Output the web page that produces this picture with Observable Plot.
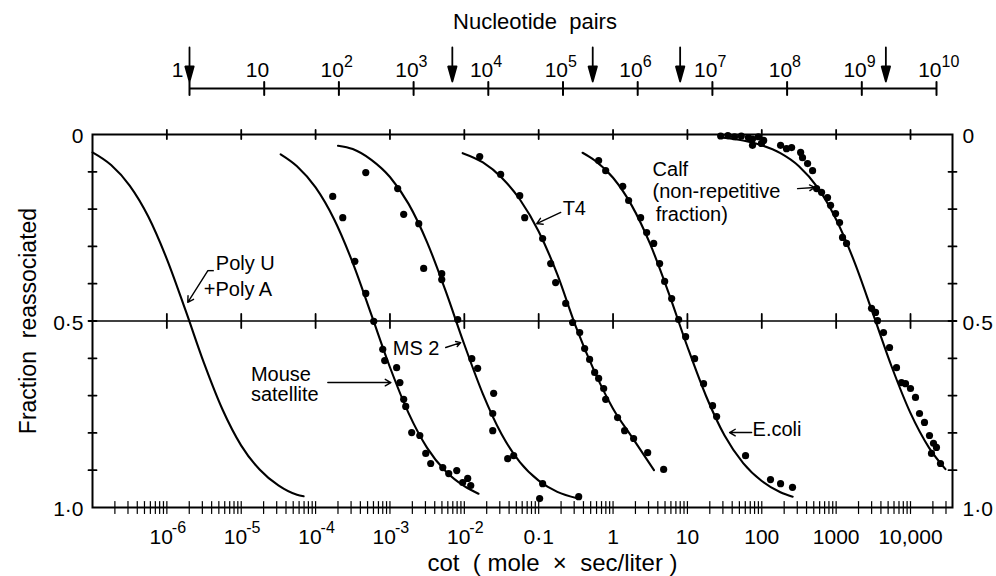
<!DOCTYPE html>
<html><head><meta charset="utf-8">
<script src="https://cdn.jsdelivr.net/npm/d3@7"></script>
<script src="https://cdn.jsdelivr.net/npm/@observablehq/plot@0.6"></script>
<style>
body{margin:0;background:#fff;}
#fig{width:996px;height:576px;position:relative;overflow:hidden;}
#fig svg{display:block;}
svg text{white-space:pre;}
</style></head><body><div id="fig"></div>
<script>
// ---------- axis ticks & labels ----------
const cotTicks = [1e-6, 1e-5, 1e-4, 1e-3, 1e-2, 0.1, 1, 10, 100, 1000, 10000];
const cotTickText = ["10", "10", "10", "10", "10", "0·1", "1", "10", "100", "1000", "10,000"];
const cotTickSup = ["-6", "-5", "-4", "-3", "-2", "", "", "", "", "", ""];
const ntTicks = [1, 10, 1e2, 1e3, 1e4, 1e5, 1e6, 1e7, 1e8, 1e9, 1e10];
const ntTickText = ["1", "10", "10", "10", "10", "10", "10", "10", "10", "10", "10"];
const ntTickSup = ["", "", "2", "3", "4", "5", "6", "7", "8", "9", "10"];
const ntArrows = [1, 3.3e3, 2.5e5, 3.7e6, 2.1e9];
const fracTicks = [0.1, 0.2, 0.3, 0.4, 0.5, 0.6, 0.7, 0.8, 0.9];
const fracLabels = [0, 0.5, 1];
const fracLabelText = ["0", "0·5", "1·0"];

// ---------- curves (cot, fraction reassociated) ----------
const polyUCot = [1e-7, 1.78e-7, 3.16e-7, 5.62e-7, 1e-6, 1.78e-6, 3.16e-6, 5.62e-6, 1e-5, 1.78e-5, 3.16e-5, 5.62e-5, 6.9e-5];
const polyUFrac = [0.048, 0.082, 0.137, 0.220, 0.334, 0.471, 0.613, 0.738, 0.834, 0.899, 0.941, 0.966, 0.970];
const mouseCot = [3.39e-5, 5.62e-5, 1e-4, 1.78e-4, 3.16e-4, 5.62e-4, 1e-3, 1.78e-3, 3.16e-3, 5.62e-3, 1e-2, 1.55e-2];
const mouseFrac = [0.053, 0.085, 0.142, 0.228, 0.344, 0.483, 0.624, 0.747, 0.840, 0.903, 0.943, 0.963];
const ms2Cot = [2.0e-4, 3.16e-4, 5.62e-4, 1e-3, 1.78e-3, 3.16e-3, 5.62e-3, 1e-2, 1.78e-2, 3.16e-2, 5.62e-2, 0.1, 0.178, 0.33];
const ms2Frac = [0.030, 0.039, 0.068, 0.114, 0.186, 0.289, 0.420, 0.563, 0.696, 0.803, 0.879, 0.928, 0.958, 0.975];
const t4Cot = [9.5e-3, 1.78e-2, 3.16e-2, 5.62e-2, 0.1, 0.178, 0.316, 0.562, 1, 1.78, 3.55];
const t4Frac = [0.050, 0.075, 0.115, 0.175, 0.260, 0.375, 0.515, 0.635, 0.735, 0.810, 0.900];
const ecoliCot = [0.389, 0.562, 1, 1.78, 3.16, 5.62, 10, 17.8, 31.6, 56.2, 100, 178, 260];
const ecoliFrac = [0.049, 0.069, 0.116, 0.190, 0.294, 0.426, 0.569, 0.701, 0.807, 0.881, 0.929, 0.959, 0.971];
const calfCot = [28, 56.2, 100, 178, 316, 562, 1000, 1780, 3160, 5620, 10000, 17800, 29500];
const calfFrac = [0.008, 0.016, 0.029, 0.050, 0.085, 0.142, 0.228, 0.344, 0.483, 0.624, 0.747, 0.840, 0.897];

// ---------- measured points ----------
const mouseDotCot = [1.70e-4, 2.32e-4, 3.37e-4, 4.73e-4, 6.05e-4, 8.0e-4, 8.5e-4, 1.23e-3, 1.36e-3, 1.53e-3, 1.63e-3, 1.96e-3, 2.52e-3, 3.03e-3, 3.53e-3, 5.13e-3, 6.17e-3, 7.91e-3, 9.5e-3, 1.11e-2, 1.22e-2];
const mouseDotFrac = [0.166, 0.223, 0.340, 0.426, 0.501, 0.576, 0.606, 0.625, 0.665, 0.710, 0.729, 0.799, 0.807, 0.855, 0.882, 0.893, 0.909, 0.901, 0.933, 0.922, 0.941];
const ms2DotCot = [4.73e-4, 1.27e-3, 1.53e-3, 2.44e-3, 2.84e-3, 4.97e-3, 4.97e-3, 8.15e-3, 1.26e-2, 1.51e-2, 2.48e-2, 2.41e-2, 2.41e-2, 3.83e-2, 4.61e-2, 0.113, 0.103, 0.345];
const ms2DotFrac = [0.102, 0.145, 0.214, 0.239, 0.359, 0.373, 0.389, 0.496, 0.601, 0.627, 0.694, 0.748, 0.794, 0.869, 0.861, 0.936, 0.976, 0.971];
const t4DotCot = [1.61e-2, 3.08e-2, 5.56e-2, 6.49e-2, 0.113, 0.145, 0.169, 0.231, 0.286, 0.356, 0.415, 0.484, 0.566, 0.640, 0.748, 0.796, 1.15, 1.43, 1.89, 2.92, 4.79];
const t4DotFrac = [0.059, 0.107, 0.164, 0.223, 0.279, 0.346, 0.397, 0.453, 0.504, 0.531, 0.574, 0.603, 0.638, 0.654, 0.681, 0.710, 0.759, 0.794, 0.815, 0.853, 0.898];
const ecoliDotCot = [0.640, 0.796, 1.35, 1.62, 2.35, 2.83, 3.52, 4.23, 4.94, 6.14, 7.62, 9.46, 12.5, 16.5, 21.8, 24.7, 60.5, 131, 179, 259];
const ecoliDotFrac = [0.070, 0.097, 0.139, 0.177, 0.223, 0.263, 0.292, 0.346, 0.394, 0.440, 0.496, 0.542, 0.601, 0.668, 0.727, 0.756, 0.861, 0.925, 0.936, 0.946];
const calfDotCot = [28, 35, 43, 53, 66, 75, 90, 106, 75, 99, 179, 215, 252, 333, 353, 413, 482, 546, 637, 766, 841, 982, 1112, 1219, 1380, 2992, 3388, 3597, 4335, 5224, 6486, 7570, 8570, 10000, 11670, 13210, 15420, 18000, 19150, 20370, 22340, 25290];
const calfDotFrac = [0.004, 0.003, 0.006, 0.004, 0.008, 0.012, 0.006, 0.016, 0.029, 0.024, 0.029, 0.038, 0.035, 0.048, 0.062, 0.078, 0.097, 0.145, 0.155, 0.169, 0.190, 0.212, 0.236, 0.276, 0.292, 0.466, 0.477, 0.499, 0.531, 0.571, 0.625, 0.665, 0.668, 0.681, 0.705, 0.748, 0.772, 0.807, 0.855, 0.828, 0.839, 0.882];

// ---------- annotations ----------
const noteText = ["Poly U", "+Poly A", "Mouse", "satellite", "MS 2", "T4", "Calf", "(non-repetitive", "fraction)", "E.coli"];
const noteCot = [4.56e-6, 3.14e-6, 1.35e-5, 1.35e-5, 1.09e-3, 0.21, 3.4, 3.4, 3.74, 75.2];
const noteFrac = [0.362, 0.434, 0.660, 0.715, 0.590, 0.217, 0.110, 0.169, 0.231, 0.807];
const arrowX1 = [3.56e-6, 1.46e-4, 5.62e-3, 0.198, 303, 73];
const arrowY1 = [0.365, 0.665, 0.571, 0.209, 0.145, 0.799];
const arrowX2 = [1.91e-6, 1.03e-3, 8.95e-3, 0.094, 513, 36.9];
const arrowY2 = [0.450, 0.665, 0.558, 0.239, 0.142, 0.799];
const hookX1 = [4.28e-6], hookX2 = [3.56e-6], hookY = [0.365];

// ---------- build tables ----------
const series = [
  ["Poly", polyUCot, polyUFrac], ["Mouse", mouseCot, mouseFrac], ["MS2", ms2Cot, ms2Frac],
  ["T4", t4Cot, t4Frac], ["Ecoli", ecoliCot, ecoliFrac], ["Calf", calfCot, calfFrac]
];
const curveRows = series.flatMap(([s, c, f]) => c.map((v, i) => ({s, cot: v, f: f[i]})));
const dotSeries = [
  [mouseDotCot, mouseDotFrac], [ms2DotCot, ms2DotFrac], [t4DotCot, t4DotFrac],
  [ecoliDotCot, ecoliDotFrac], [calfDotCot, calfDotFrac]
];
const dotRows = dotSeries.flatMap(([c, f]) => c.map((v, i) => ({cot: v, f: f[i]})));
const noteRows = noteText.map((t, i) => ({t, cot: noteCot[i], f: noteFrac[i]}));
const arrowRows = arrowX1.map((x, i) => ({x1: x, y1: arrowY1[i], x2: arrowX2[i], y2: arrowY2[i]}));
const hookRows = hookX1.map((x, i) => ({x1: x, x2: hookX2[i], y: hookY[i]}));

const xDom = [1e-7, 3.67e4];
const minorTicks = [];
for (let e = -7; e <= 4; e++) for (let m = 1; m <= 9; m++) {
  const v = m * Math.pow(10, e);
  if (v > xDom[0] * 1.01 && v < xDom[1]) minorTicks.push(v);
}

const tickShape = {draw(ctx, l) { ctx.moveTo(0, 0); ctx.lineTo(0, -l); }};
const headShape = {draw(ctx, l) {
  const h = 15, w = 4.2;
  ctx.moveTo(0, 0); ctx.lineTo(0, -l + h);
  ctx.moveTo(-w, -l + h); ctx.lineTo(0, -l); ctx.lineTo(w, -l + h); ctx.closePath();
}};

const font = "'Liberation Sans', Arial, Helvetica, sans-serif";
const baseStyle = {fontFamily: font, fontSize: "21px", color: "black", background: "white", overflow: "visible"};

// ---------- top axis: nucleotide pairs ----------
const topPlot = Plot.plot({
  width: 996, height: 110,
  marginTop: 88, marginBottom: 22, marginLeft: 189, marginRight: 60,
  x: {type: "log", domain: [1, 1e10], axis: null},
  y: {domain: [0, 1], axis: null},
  style: baseStyle,
  marks: [
    Plot.ruleY([0], {x1: 1, x2: 1e10, strokeWidth: 2}),
    Plot.vector(ntTicks, {x: d => d, y: 0, length: 13, anchor: "middle", shape: tickShape, strokeWidth: 2}),
    Plot.vector(ntArrows, {x: d => d, y: 0, dy: -7, length: 34, anchor: "end", rotate: 180, shape: headShape, fill: "black", stroke: "black", strokeWidth: 1.8}),
    Plot.text(ntTicks, {filter: (d, i) => i === 0, x: d => d, y: 0, text: (d, i) => ntTickText[i], textAnchor: "end", lineAnchor: "bottom", dx: -6, dy: -12}),
    Plot.text(ntTicks, {filter: (d, i) => i > 0, x: d => d, y: 0, text: (d, i) => ntTickText[i], textAnchor: "end", lineAnchor: "bottom", dx: 5, dy: -12}),
    Plot.text(ntTicks, {filter: (d, i) => ntTickSup[i] !== "", x: d => d, y: 0, text: (d, i) => ntTickSup[i], textAnchor: "start", lineAnchor: "bottom", dx: 5, dy: -22, fontSize: 16}),
    Plot.text(["Nucleotide  pairs"], {frameAnchor: "top", textAnchor: "middle", lineAnchor: "bottom", dx: -28, dy: -60, fontSize: 22})
  ]
});

// ---------- main chart ----------
const mainPlot = Plot.plot({
  width: 996, height: 466,
  marginTop: 24, marginBottom: 69, marginLeft: 92, marginRight: 44,
  x: {type: "log", domain: xDom, axis: null},
  y: {domain: [0, 1], reverse: true, axis: null},
  style: baseStyle,
  marks: [
    Plot.ruleY([0.5], {strokeWidth: 1.6}),
    Plot.vector(cotTicks, {x: d => d, y: 0, rotate: 180, length: 9, shape: tickShape, strokeWidth: 1.8}),
    Plot.vector(cotTicks, {x: d => d, y: 0.5, anchor: "middle", length: 14, shape: tickShape, strokeWidth: 1.8}),
    Plot.vector(minorTicks, {x: d => d, y: 1, length: 12, shape: tickShape, strokeWidth: 1.2}),
    Plot.vector(fracTicks, {x: xDom[0], y: d => d, rotate: 90, length: 8, shape: tickShape, strokeWidth: 1.8}),
    Plot.vector(fracTicks, {x: xDom[1], y: d => d, rotate: -90, length: 8, shape: tickShape, strokeWidth: 1.8}),
    Plot.line(curveRows, {x: "cot", y: "f", z: "s", curve: "monotone-x", stroke: "black", strokeWidth: 2.1}),
    Plot.dot(dotRows, {x: "cot", y: "f", r: 3.6, fill: "black", stroke: "none"}),
    Plot.arrow(arrowRows, {x1: "x1", y1: "y1", x2: "x2", y2: "y2", headLength: 7, strokeWidth: 1.4}),
    Plot.link(hookRows, {x1: "x1", x2: "x2", y1: "y", y2: "y", strokeWidth: 1.4}),
    Plot.text(noteRows, {x: "cot", y: "f", text: "t", textAnchor: "start", lineAnchor: "bottom", fontSize: 20}),
    Plot.frame({stroke: "black", strokeWidth: 2}),
    // bottom tick labels
    Plot.text(cotTicks, {filter: (d, i) => cotTickSup[i] === "", x: d => d, y: 1, text: (d, i) => cotTickText[i], textAnchor: "middle", lineAnchor: "bottom", dy: 36}),
    Plot.text(cotTicks, {filter: (d, i) => cotTickSup[i] !== "", x: d => d, y: 1, text: (d, i) => cotTickText[i], textAnchor: "end", lineAnchor: "bottom", dx: 6, dy: 36}),
    Plot.text(cotTicks, {filter: (d, i) => cotTickSup[i] !== "", x: d => d, y: 1, text: (d, i) => cotTickSup[i], textAnchor: "start", lineAnchor: "bottom", dx: 5, dy: 25, fontSize: 16}),
    // y labels
    Plot.text(fracLabels, {x: xDom[0], y: d => d, text: (d, i) => fracLabelText[i], textAnchor: "end", lineAnchor: "middle", dx: -9, dy: 2}),
    Plot.text(fracLabels, {x: xDom[1], y: d => d, text: (d, i) => fracLabelText[i], textAnchor: "start", lineAnchor: "middle", dx: 10, dy: 2}),
    // titles
    Plot.text(["Fraction  reassociated"], {frameAnchor: "left", textAnchor: "middle", lineAnchor: "middle", rotate: -90, dx: -64, fontSize: 23}),
    Plot.text(["cot  ( mole  ×  sec/liter )"], {frameAnchor: "bottom", textAnchor: "middle", lineAnchor: "bottom", dx: 30, dy: 63, fontSize: 24})
  ]
});

const fig = document.getElementById("fig");
fig.appendChild(topPlot);
fig.appendChild(mainPlot);
</script></body></html>
